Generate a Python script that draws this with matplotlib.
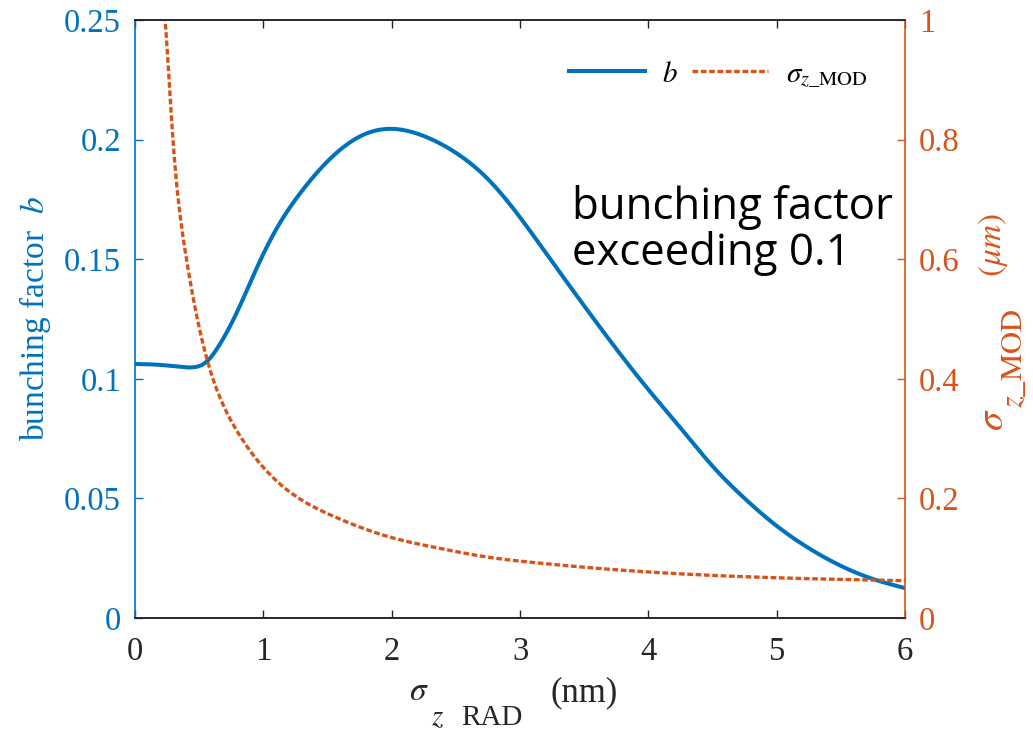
import matplotlib
matplotlib.use("Agg")
import matplotlib.pyplot as plt
import numpy as np

plt.rcParams['font.family'] = ['Liberation Serif', 'DejaVu Serif']
plt.rcParams['mathtext.fontset'] = 'stix'

# bunching factor b (left axis)
x_b = [0.0, 0.2, 0.35, 0.45, 0.55, 0.65, 0.8, 0.95, 1.1, 1.3, 1.55, 1.8, 2.0,
       2.25, 2.5, 2.75, 3.0, 3.25, 3.5, 3.75, 4.0, 4.25, 4.5, 4.75, 5.0, 5.25,
       5.5, 5.75, 6.0]
b_vals = [0.1062, 0.1058, 0.1050, 0.1048, 0.1068, 0.1135, 0.1285, 0.1465, 0.1625,
          0.1785, 0.1935, 0.2025, 0.2045, 0.2015, 0.1945, 0.1835, 0.1675, 0.1490,
          0.1305, 0.1125, 0.0955, 0.0795, 0.0635, 0.0500, 0.0385, 0.0292, 0.0218,
          0.0163, 0.0125]

# sigma_z_MOD (right axis, um)
x_s = [0.215, 0.234, 0.285, 0.312, 0.39, 0.467, 0.558, 0.675, 0.78, 0.987, 1.30,
       1.558, 1.974, 2.338, 2.727, 3.117, 3.79, 4.96, 6.0]
s_vals = [1.04, 1.0, 0.833, 0.755, 0.615, 0.52, 0.435, 0.362, 0.318, 0.255, 0.197,
          0.169, 0.136, 0.118, 0.1025, 0.0925, 0.080, 0.0675, 0.0624]

x_ticks = [0, 1, 2, 3, 4, 5, 6]
yl_ticks = [0, 0.05, 0.1, 0.15, 0.2, 0.25]
yl_labels = ['0', '0.05', '0.1', '0.15', '0.2', '0.25']
yr_ticks = [0, 0.2, 0.4, 0.6, 0.8, 1.0]
yr_labels = ['0', '0.2', '0.4', '0.6', '0.8', '1']

blue = '#0072BD'
orange = '#D95319'
gray = '#262626'

W, H = 1033, 731


def natural_spline(xp, yp, n=600):
    xp = np.asarray(xp, float); yp = np.asarray(yp, float)
    m = len(xp)
    h = np.diff(xp)
    A = np.zeros((m, m)); r = np.zeros(m)
    A[0, 0] = A[-1, -1] = 1
    for i in range(1, m - 1):
        A[i, i - 1] = h[i - 1]
        A[i, i] = 2 * (h[i - 1] + h[i])
        A[i, i + 1] = h[i]
        r[i] = 3 * ((yp[i + 1] - yp[i]) / h[i] - (yp[i] - yp[i - 1]) / h[i - 1])
    c = np.linalg.solve(A, r)
    b = (yp[1:] - yp[:-1]) / h - h * (2 * c[:-1] + c[1:]) / 3
    d = (c[1:] - c[:-1]) / (3 * h)
    xs = np.linspace(xp[0], xp[-1], n)
    idx = np.clip(np.searchsorted(xp, xs) - 1, 0, m - 2)
    dx = xs - xp[idx]
    ys = yp[idx] + b[idx] * dx + c[idx] * dx ** 2 + d[idx] * dx ** 3
    return xs, ys


def ftext(px, py, s, **kw):
    # place text at figure pixel position (py measured from top)
    return fig.text(px / W, 1 - py / H, s, **kw)


fig = plt.figure(figsize=(W / 100, H / 100), dpi=100)
ax = fig.add_axes([0.1307, 0.1546, 0.7454, 0.818])
ax2 = ax.twinx()

bx, by = natural_spline(x_b, b_vals)
sx, sy = natural_spline(x_s, s_vals)

l1, = ax.plot(bx, by, color=blue, lw=2.9, label=r'$b$', zorder=3)
l2, = ax2.plot(sx, sy, color=orange, lw=2.4, linestyle=(0, (1.7, 0.8)),
               label=r'$\sigma_{z\_\mathrm{MOD}}$', zorder=2)

ax.set_xlim(0, 6)
ax.set_ylim(0, 0.25)
ax2.set_ylim(0, 1)
ax.set_xticks(x_ticks)
ax.set_xticklabels([str(t) for t in x_ticks])
ax.set_yticks(yl_ticks)
ax.set_yticklabels(yl_labels)
ax2.set_yticks(yr_ticks)
ax2.set_yticklabels(yr_labels)

fs = 23.5
ax.tick_params(axis='x', direction='in', length=6, width=1, colors=gray, labelsize=fs,
               top=True, pad=13)
ax.tick_params(axis='y', direction='in', length=6, width=1, colors=blue, labelsize=fs,
               left=True, right=False, pad=10)
ax2.tick_params(axis='y', direction='in', length=6, width=1, colors=orange, labelsize=fs,
                right=True, left=False, pad=10)
for a in (ax, ax2):
    a.spines['top'].set_color(gray)
    a.spines['bottom'].set_color(gray)
    a.spines['left'].set_color(blue)
    a.spines['right'].set_color(orange)
    for s in a.spines.values():
        s.set_linewidth(1.2)
ax.spines['right'].set_visible(False)
ax2.spines['left'].set_visible(False)

ax.set_ylabel(r'bunching factor  $b$', fontsize=24, color=blue, labelpad=8)

# x label: sigma with a lowered subscript, then units
ftext(409, 700, r'$\sigma$', fontsize=24, color=gray, ha='left', va='baseline')
ftext(431, 725, r'$z$', fontsize=21, color=gray, ha='left', va='baseline')
ftext(461, 725, 'RAD', fontsize=21, color=gray, ha='left', va='baseline')
ftext(551, 701, '(nm)', fontsize=25, color=gray, ha='left', va='baseline')

# right y label (rotated, reading upward)
rk = dict(rotation=90, rotation_mode='anchor', ha='left', va='baseline', color=orange)
ftext(1003, 431, r'$\sigma$', fontsize=28, **rk)
ftext(1022, 408, r'$z\_\mathrm{MOD}$', fontsize=22, **rk)
ftext(1001, 277, r'$(\mu m)$', fontsize=24, **rk)

leg = ax.legend(handles=[l1, l2], ncol=2, frameon=False, loc='upper right',
                bbox_to_anchor=(0.985, 0.975), fontsize=21, handlelength=2.6,
                columnspacing=0.5, handletextpad=0.6)

ax.text(3.405, 0.162, 'bunching factor\nexceeding 0.1', fontsize=31.5,
        family=['Open Sans', 'DejaVu Sans'], color='black', va='center', ha='left',
        linespacing=1.05)

fig.savefig('out.png', dpi=100)
